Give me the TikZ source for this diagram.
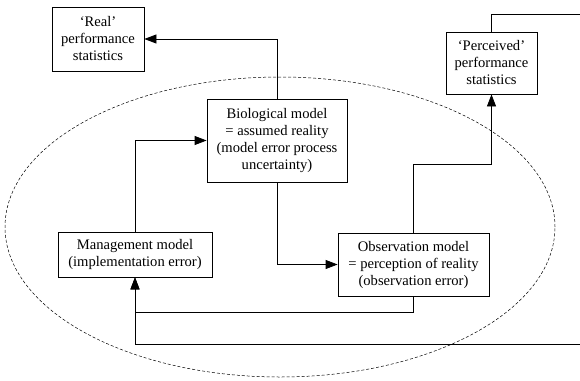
\documentclass[tikz,border=0pt]{standalone}
\usepackage{fontspec}
\setmainfont{Liberation Serif}
\usetikzlibrary{arrows.meta}
\tikzset{
  modelbox/.style={draw, line width=0.8pt, align=center, inner sep=0pt,
    font=\fontsize{14.6}{17}\selectfont},
  flow/.style={line width=0.8pt, -{Triangle[length=12pt,width=9pt]}},
  wire/.style={line width=0.8pt},
}
\begin{document}
\begin{tikzpicture}[x=1pt, y=-1pt]
                \useasboundingbox (0,0) rectangle (580,380);
                \draw[line width=0.5pt, dash pattern=on 3pt off 2pt] (280,227) ellipse [x radius=275pt, y radius=150pt];
                \node[modelbox, minimum width=92pt, minimum height=64pt] (real) at (98,39) {‘Real’\\performance\\statistics};
                \node[modelbox, minimum width=91pt, minimum height=62pt] (perc) at (491.5,63) {‘Perceived’\\performance\\statistics};
                \node[modelbox, minimum width=140pt, minimum height=83pt] (bio) at (277,140.5) {Biological model\\= assumed reality\\(model error process\\uncertainty)};
                \node[modelbox, minimum width=154pt, minimum height=45pt] (mgmt) at (135,254.5) {Management model\\(implementation error)};
                \node[modelbox, minimum width=151pt, minimum height=63pt] (obs) at (413.5,264.5) {Observation model\\= perception of reality\\(observation error)};
                \path (580,14) coordinate (outP);
                \path (580,344) coordinate (inM);
                \draw[flow] (bio.north) |- (real.east);
                \draw[flow] (mgmt.north) |- (bio.west);
                \draw[flow] (bio.south) |- (obs.west);
                \draw[flow] (obs.north) -- (obs.north |- 0,164) -| (perc.south);
                \draw[wire] (perc.north) |- (outP);
                \draw[flow] (obs.south) |- (mgmt.south |- 0,312) -- (mgmt.south);
                \draw[flow] (inM) -| (mgmt.south);
\end{tikzpicture}
\end{document}
